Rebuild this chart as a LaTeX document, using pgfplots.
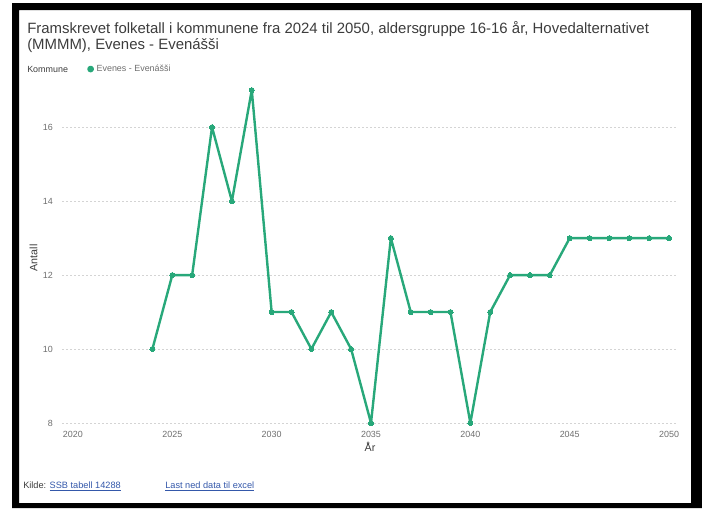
\documentclass[border=0pt]{standalone}
\usepackage{fontspec}
\setmainfont{Liberation Sans}
\usepackage{pgfplots}
\usepackage{pgfplotstable}
\pgfplotsset{compat=1.18}

\definecolor{evgreen}{RGB}{40,168,122}
\definecolor{linkblue}{RGB}{52,88,170}
\definecolor{titlegray}{RGB}{60,60,60}
\definecolor{tickgray}{RGB}{110,110,110}
\definecolor{gridgray}{RGB}{212,212,212}

% Evenes - Evenášši, aldersgruppe 16-16 år
\pgfplotstableread{
year value
2024 10
2025 12
2026 12
2027 16
2028 14
2029 17
2030 11
2031 11
2032 10
2033 11
2034 10
2035 8
2036 13
2037 11
2038 11
2039 11
2040 8
2041 11
2042 12
2043 12
2044 12
2045 13
2046 13
2047 13
2048 13
2049 13
2050 13
}\evenes

\begin{document}
\begin{tikzpicture}
\begin{axis}[
    at={(46.5pt,-317.25pt)}, anchor=south west,
    width=462pt, height=258pt, scale only axis,
    xmin=2019.45, xmax=2050.45,
    ymin=8, ymax=17.3,
    axis line style={draw=none},
    major tick length=0pt,
    xtick={2020,2025,...,2050},
    ytick={8,10,...,16},
    ymajorgrids,
    grid style={gridgray, line width=0.75pt, dash pattern=on 1.5pt off 1.5pt},
    /pgf/number format/assume math mode=true,
    /pgf/number format/1000 sep={},
    tick label style={font=\fontsize{6.7}{8}\selectfont, text=tickgray, inner sep=0pt},
    xticklabel style={anchor=north, yshift=-6pt},
    yticklabel style={anchor=east, xshift=-6.75pt},
    xlabel={År}, ylabel={Antall},
    xlabel style={at={(axis description cs:0.5,-0.070)}, anchor=center,
      font=\fontsize{8}{9}\selectfont, text=titlegray},
    ylabel style={at={(axis description cs:-0.046,0.48)}, anchor=center,
      font=\fontsize{8}{9}\selectfont, text=titlegray},
    clip=false,
    legend style={at={(axis description cs:0.0406,1.029)}, anchor=west,
      draw=none, fill=none, inner sep=0pt,
      font=\fontsize{6.7}{8}\selectfont, text=tickgray},
    legend image code/.code={\fill[evgreen] (0pt,0pt) circle (1.6pt);},
  ]
  \addplot[evgreen, line width=1.8pt, line join=round, mark=*, mark size=1.9pt,
    mark options={fill=evgreen, draw=evgreen, line width=0pt}]
    table[x=year, y=value] {\evenes};
  \addlegendentry{Evenes - Evenášši}
\end{axis}

\begin{scope}[x=0.75pt, y=-0.75pt]
  % frame
  \fill[black, even odd rule] (12,3) rectangle (702,508) (19,10) rectangle (691,503);
  % title
  \node[anchor=base west, inner sep=0pt, text=titlegray, font=\fontsize{11.2}{13}\selectfont]
    at (27,33) {Framskrevet folketall i kommunene fra 2024 til 2050, aldersgruppe 16-16 år, Hovedalternativet};
  \node[anchor=base west, inner sep=0pt, text=titlegray, font=\fontsize{11.2}{13}\selectfont]
    at (27,49) {(MMMM), Evenes - Evenášši};
  \node[anchor=west, inner sep=0pt, text=titlegray, font=\fontsize{6.7}{8}\selectfont]
    at (27,69) {Kommune};
  % footer
  \node[anchor=base west, inner sep=0pt, text=titlegray, font=\fontsize{6.9}{8}\selectfont]
    at (23,488) {Kilde: \textcolor{linkblue}{\underline{SSB tabell 14288}}};
  \node[anchor=base west, inner sep=0pt, text=linkblue, font=\fontsize{6.9}{8}\selectfont]
    at (165,488) {\underline{Last ned data til excel}};
  \pgfresetboundingbox
  \path[use as bounding box] (0,0) rectangle (702,508);
\end{scope}
\end{tikzpicture}
\end{document}
